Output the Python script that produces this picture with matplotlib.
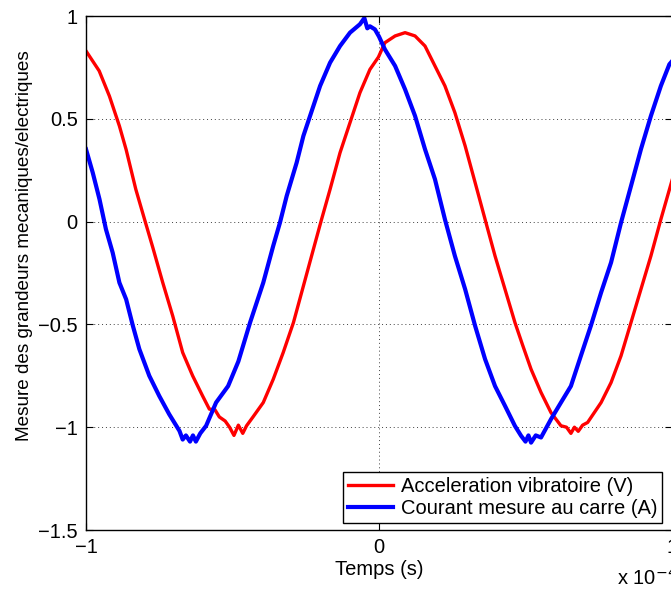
import matplotlib
matplotlib.use("Agg")
import matplotlib.pyplot as plt

plt.rcParams['font.family'] = ['Liberation Sans', 'DejaVu Sans']

# time in units of 1e-4 s
t_red = [-1.0, -0.955, -0.92, -0.886, -0.863, -0.83, -0.80, -0.772, -0.738, -0.704,
         -0.67, -0.636, -0.602, -0.579, -0.56, -0.545, -0.525, -0.51, -0.495, -0.48,
         -0.465, -0.452, -0.43, -0.395, -0.361, -0.327, -0.292, -0.258, -0.224, -0.196,
         -0.167, -0.133, -0.099, -0.065, -0.031, -0.002, 0.02, 0.055, 0.089, 0.123,
         0.157, 0.191, 0.225, 0.259, 0.294, 0.328, 0.362, 0.396, 0.43, 0.464,
         0.49, 0.519, 0.553, 0.587, 0.621, 0.64, 0.655, 0.667, 0.68, 0.695,
         0.712, 0.758, 0.792, 0.826, 0.86, 0.894, 0.928, 0.962, 1.0]
acc_red = [0.83, 0.733, 0.61, 0.465, 0.35, 0.157, 0.01, -0.126, -0.297, -0.459,
           -0.637, -0.75, -0.848, -0.912, -0.915, -0.95, -0.97, -1.0, -1.04, -0.99,
           -1.03, -0.993, -0.95, -0.88, -0.767, -0.637, -0.491, -0.313, -0.135, 0.011,
           0.157, 0.335, 0.481, 0.627, 0.74, 0.80, 0.87, 0.903, 0.919, 0.903,
           0.854, 0.757, 0.66, 0.53, 0.368, 0.19, 0.011, -0.167, -0.329, -0.491,
           -0.6, -0.718, -0.831, -0.929, -0.993, -1.0, -1.03, -1.0, -1.02, -0.99,
           -0.977, -0.88, -0.783, -0.653, -0.491, -0.329, -0.167, 0.011, 0.20]

t_blue = [-1.0, -0.977, -0.954, -0.932, -0.909, -0.886, -0.863, -0.84, -0.818, -0.784,
          -0.75, -0.716, -0.681, -0.67, -0.659, -0.645, -0.635, -0.625, -0.61, -0.59,
          -0.556, -0.515, -0.48, -0.44, -0.395, -0.361, -0.338, -0.315, -0.281, -0.258,
          -0.224, -0.201, -0.167, -0.133, -0.099, -0.065, -0.05, -0.04, -0.031, -0.014,
          0.0, 0.02, 0.055, 0.089, 0.123, 0.157, 0.191, 0.225, 0.259, 0.294,
          0.328, 0.362, 0.396, 0.43, 0.464, 0.485, 0.50, 0.51, 0.519, 0.535,
          0.553, 0.587, 0.621, 0.655, 0.689, 0.723, 0.758, 0.792, 0.826, 0.86,
          0.894, 0.928, 0.962, 0.991, 1.0]
cur_blue = [0.352, 0.238, 0.109, -0.037, -0.151, -0.297, -0.378, -0.507, -0.62, -0.75,
            -0.848, -0.937, -1.018, -1.06, -1.04, -1.07, -1.04, -1.07, -1.03, -0.993,
            -0.88, -0.80, -0.68, -0.491, -0.297, -0.118, -0.005, 0.125, 0.287, 0.417,
            0.562, 0.66, 0.773, 0.854, 0.919, 0.96, 0.99, 0.94, 0.95, 0.935,
            0.90, 0.838, 0.757, 0.643, 0.514, 0.352, 0.206, 0.011, -0.167, -0.329,
            -0.507, -0.669, -0.80, -0.896, -0.994, -1.042, -1.07, -1.04, -1.075, -1.04,
            -1.05, -0.961, -0.88, -0.80, -0.653, -0.507, -0.345, -0.199, -0.005, 0.173,
            0.352, 0.514, 0.66, 0.765, 0.78]

labels = ["Acceleration vibratoire (V)", "Courant mesure au carre (A)"]
xticks = [-1, 0, 1]
yticks = [-1.5, -1, -0.5, 0, 0.5, 1]

fig = plt.figure(figsize=(6.71, 5.92), dpi=100)
ax = fig.add_axes([86/671, 1 - 530/592, 586/671, 514/592])

ax.plot(t_red, acc_red, color='#ff0000', lw=2.4, label=labels[0])
ax.plot(t_blue, cur_blue, color='#0000ff', lw=3.0, label=labels[1])

ax.set_xlim(-1, 1)
ax.set_ylim(-1.5, 1)
ax.set_xticks(xticks)
ax.set_yticks(yticks)
ax.set_xticklabels(['\u22121', '0', '1'])
ax.set_yticklabels(['\u22121.5', '\u22121', '\u22120.5', '0', '0.5', '1'])
ax.tick_params(direction='in', length=5, width=0.8, labelsize=14.5,
               top=True, right=True, pad=6, colors='black')
ax.grid(True, linestyle=(0, (1, 3)), color='0.25', linewidth=0.7)
for s in ax.spines.values():
    s.set_linewidth(1.0)
    s.set_color('black')

ax.set_xlabel('Temps (s)', fontsize=14.5, labelpad=2)
ax.set_ylabel('Mesure des grandeurs mecaniques/electriques', fontsize=13.6)
ax.yaxis.set_label_coords(-0.09, 0.553)

fig.text(617/671, 1 - 585/592, 'x 10$^{\u22124}$', fontsize=14.5, ha='left', va='baseline')

leg = ax.legend(loc='lower right', bbox_to_anchor=(0.983, 0.0136), borderaxespad=0,
                fontsize=14.5, frameon=True, fancybox=False, edgecolor='black',
                handlelength=2.25, handletextpad=0.35, labelspacing=0.15,
                borderpad=0.25)
leg.get_frame().set_linewidth(1.0)
leg.get_frame().set_alpha(1)

fig.savefig('out.png', dpi=100)
